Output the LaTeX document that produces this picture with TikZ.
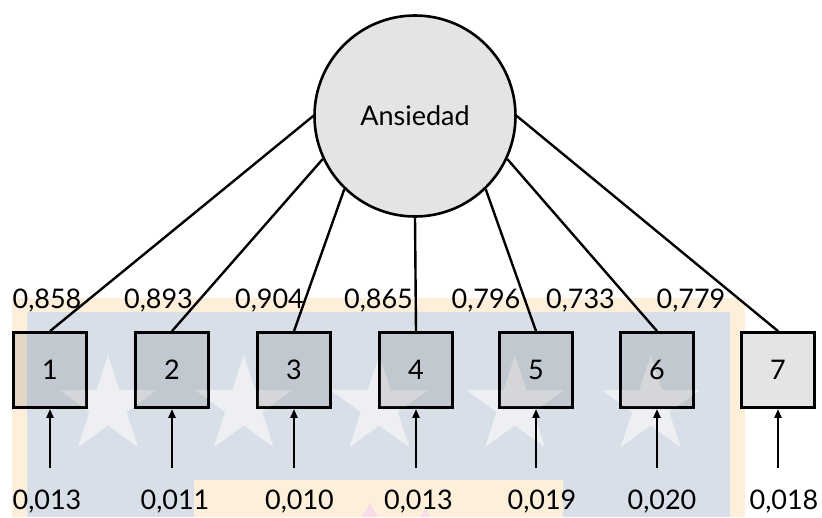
\documentclass[tikz,border=0pt]{standalone}
\usepackage{fontspec}
\setmainfont{Lato}
\usetikzlibrary{arrows.meta}
\definecolor{shade}{HTML}{E4E4E4}
\definecolor{shadeblue}{HTML}{C2C8D0}
\definecolor{shadeorange}{HTML}{E2D5C3}
\definecolor{shadestar}{HTML}{D4D6D9}
\definecolor{wmorange}{HTML}{FEEFDB}
\definecolor{wmblue}{HTML}{D8DFE8}
\definecolor{wmstar}{HTML}{EDEFF2}
\definecolor{wmpink}{HTML}{F8DDE8}
\newcommand{\numfont}{\fontsize{27}{30}\selectfont}
\newcommand{\starpath}{(-90:51) -- (-54:19.5) -- (-18:51) -- (18:19.5) -- (54:51)
      -- (90:19.5) -- (126:51) -- (162:19.5) -- (198:51) -- (234:19.5) -- cycle}
\begin{document}
\begin{tikzpicture}[x=1pt,y=-1pt,
  latent/.style={circle,draw,line width=2.6pt,fill=shade,minimum size=201pt,inner sep=0pt,font=\numfont},
  obs/.style={rectangle,draw,line width=2.8pt,fill=shadeblue,minimum width=73pt,minimum height=75pt,inner sep=0pt},
  load/.style={line width=2.4pt},
  err/.style={line width=2.6pt,-{Triangle[length=9pt,width=7pt]}},
  num/.style={font=\numfont,inner sep=0pt,anchor=base}]
\useasboundingbox (0,0) rectangle (822,517);

% emblem in the background
\fill[wmorange] (12,298) rectangle (745,517);
\fill[wmblue] (27,312) rectangle (730,517);
\foreach \cx in {108,243.7,379.3,515,650.7}{
  \fill[wmstar,shift={(\cx,406)}] \starpath;
}
\fill[wmorange] (194,480) rectangle (563,517);
\fill[wmpink] (362,517) -- (370,503) -- (378,517) -- cycle;
\fill[wmpink] (420,517) -- (425,509) -- (430,517) -- cycle;

% latent factor
\node[latent] (lat) at (415,116) {Ansiedad};

% observed indicators
\foreach \i/\x in {1/50,2/172,3/294,4/416,5/536,6/657}{
  \node[obs] (b\i) at (\x,370) {};
}
\node[obs,fill=shade] (b7) at (778,370) {};

% emblem tints seen through the boxes
\fill[shadeorange] ([shift={(2.8,2.8)}]b1.north west) rectangle (27,{370+37.5-1.4});
\begin{scope}
  \clip \foreach \i in {1,...,6}{([shift={(2.8,2.8)}]b\i.north west) rectangle ([shift={(-2.8,-2.8)}]b\i.south east)};
  \foreach \cx in {108,243.7,379.3,515,650.7}{
    \fill[shadestar,shift={(\cx,406)}] \starpath;
  }
\end{scope}

% box labels and error terms
\foreach \i/\x in {1/50,2/172,3/294,4/416,5/536,6/657,7/778}{
  \node[font=\numfont,inner sep=0pt] (t\i) at (b\i) {\i};
  \coordinate (e\i) at (\x,468);
  \draw[err] (e\i) -- (b\i.south);
}

% factor loadings
\draw[load] (lat.180) -- (b1.north);
\draw[load] (lat.205) -- (b2.north);
\draw[load] (lat.226) -- (b3.north);
\draw[load] (lat.270) -- (b4.north);
\draw[load] (lat.314) -- (b5.north);
\draw[load] (lat.335) -- (b6.north);
\draw[load] (lat.0) -- (b7.north);

% loading values
\node[num] (l1) at (47,308) {0,858};
\node[num] (l2) at (158.5,308) {0,893};
\node[num] (l3) at (269.5,308) {0,904};
\node[num] (l4) at (378.5,308) {0,865};
\node[num] (l5) at (486,308) {0,796};
\node[num] (l6) at (580.5,308) {0,733};
\node[num] (l7) at (691,308) {0,779};

% error variances
\node[num] (v1) at (47,509) {0,013};
\node[num] (v2) at (175,509) {0,011};
\node[num] (v3) at (299.5,509) {0,010};
\node[num] (v4) at (418.5,509) {0,013};
\node[num] (v5) at (542,509) {0,019};
\node[num] (v6) at (662,509) {0,020};
\node[num] (v7) at (784,509) {0,018};
\end{tikzpicture}
\end{document}
